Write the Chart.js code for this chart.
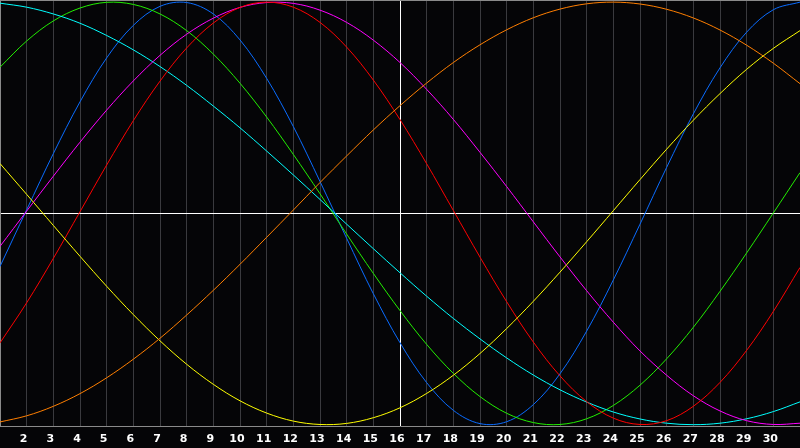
<!DOCTYPE html>
<html>
<head>
<meta charset="utf-8">
<script src="https://cdn.jsdelivr.net/npm/chart.js@4"></script>
<style>
body{margin:0;background:#050507;}
#wrap{width:800px;height:448px;}
canvas{background:#050507;}
</style>
</head>
<body>
<div id="wrap"><canvas id="chart" width="800" height="448"></canvas></div>
<script>
const xLabels = ["1","2","3","4","5","6","7","8","9","10","11","12","13","14","15","16","17","18","19","20","21","22","23","24","25","26","27","28","29","30","31"]

const orange = [-0.987,-0.958,-0.913,-0.853,-0.778,-0.690,-0.591,-0.481,-0.364,-0.241,-0.113,0.016,0.146,0.272,0.395,0.510,0.617,0.714,0.798,0.869,0.926,0.967,0.992,1.000,0.991,0.966,0.925,0.868,0.796,0.711,0.614]
const yellow = [0.236,0.090,-0.057,-0.203,-0.345,-0.479,-0.603,-0.714,-0.809,-0.887,-0.945,-0.983,-0.999,-0.994,-0.967,-0.920,-0.852,-0.766,-0.663,-0.545,-0.416,-0.278,-0.134,0.013,0.160,0.304,0.441,0.567,0.682,0.781,0.865]
const red = [-0.613,-0.423,-0.213,0.008,0.229,0.439,0.626,0.783,0.901,0.975,1.000,0.976,0.904,0.787,0.631,0.444,0.235,0.014,-0.207,-0.418,-0.609,-0.769,-0.891,-0.969,-0.999,-0.981,-0.913,-0.800,-0.648,-0.464,-0.256]
const magenta = [-0.156,0.011,0.176,0.337,0.489,0.627,0.748,0.848,0.924,0.975,0.998,0.994,0.962,0.904,0.820,0.714,0.587,0.445,0.289,0.127,-0.040,-0.206,-0.366,-0.515,-0.651,-0.766,-0.863,-0.935,-0.981,-0.999,-0.993]
const cyan = [0.995,0.976,0.944,0.900,0.842,0.774,0.695,0.606,0.508,0.405,0.295,0.182,0.066,-0.051,-0.167,-0.281,-0.392,-0.497,-0.594,-0.684,-0.765,-0.835,-0.893,-0.940,-0.973,-0.993,-1.000,-0.993,-0.972,-0.938,-0.892]
const green = [0.692,0.816,0.911,0.972,0.999,0.989,0.944,0.865,0.754,0.616,0.456,0.279,0.093,-0.098,-0.284,-0.460,-0.620,-0.757,-0.867,-0.946,-0.990,-0.999,-0.972,-0.909,-0.813,-0.688,-0.539,-0.369,-0.187,0.002,0.193]
const blue = [-0.251,0.017,0.283,0.528,0.736,0.890,0.980,0.998,0.944,0.821,0.639,0.411,0.151,-0.118,-0.380,-0.612,-0.801,-0.932,-0.995,-0.986,-0.905,-0.759,-0.557,-0.315,-0.051,0.218,0.471,0.689,0.858,0.964,1.000]

const series = [
{name:"orange", data:orange, color:"#ff7f00"},
{name:"yellow", data:yellow, color:"#ffff00"},
{name:"red", data:red, color:"#ff0000"},
{name:"magenta", data:magenta, color:"#ff00ff"},
{name:"cyan", data:cyan, color:"#00ffff"},
{name:"green", data:green, color:"#22ee00"},
{name:"blue", data:blue, color:"#0a6cff"}
]

// top border line, the axes give left and bottom
const frame = {
id:"frame",
afterDraw(chart){
const a = chart.chartArea
const ctx = chart.ctx
ctx.save()
ctx.strokeStyle = "#8a8a8a"
ctx.lineWidth = 1
ctx.beginPath()
ctx.moveTo(a.left, a.top + 0.5)
ctx.lineTo(a.right, a.top + 0.5)
ctx.stroke()
ctx.restore()
}
}

new Chart(document.getElementById("chart"),{
type:"line",
data:{
labels:xLabels,
datasets:series.map(s=>({
label:s.name,
data:s.data,
borderColor:s.color,
borderWidth:1,
pointRadius:0,
tension:0.35,
fill:false
}))
},
options:{
responsive:false,
animation:false,
devicePixelRatio:1,
layout:{padding:{left:0,right:0,top:0,bottom:2}},
plugins:{
legend:{display:false},
tooltip:{enabled:false}
},
scales:{
x:{
offset:false,
grid:{
color:c=>c.index===15 ? "#ffffff" : "#3a3a3e",
drawTicks:true,
tickLength:6,
tickColor:"transparent",
lineWidth:1
},
border:{display:true,color:"#8a8a8a"},
ticks:{
color:"#ffffff",
font:{family:"DejaVu Sans",size:11,weight:"bold"},
padding:0,
labelOffset:-3,
maxRotation:0,
autoSkip:false,
callback:function(v,i){
return (i===0 || i===xLabels.length-1) ? "" : xLabels[i]
}
}
},
y:{
min:-1.01,
max:1.01,
afterBuildTicks:axis=>{axis.ticks=[{value:0}]},
grid:{color:"#ffffff",drawTicks:false},
border:{display:true,color:"#8a8a8a"},
ticks:{display:false}
}
}
},
plugins:[frame]
})
</script>
</body>
</html>
